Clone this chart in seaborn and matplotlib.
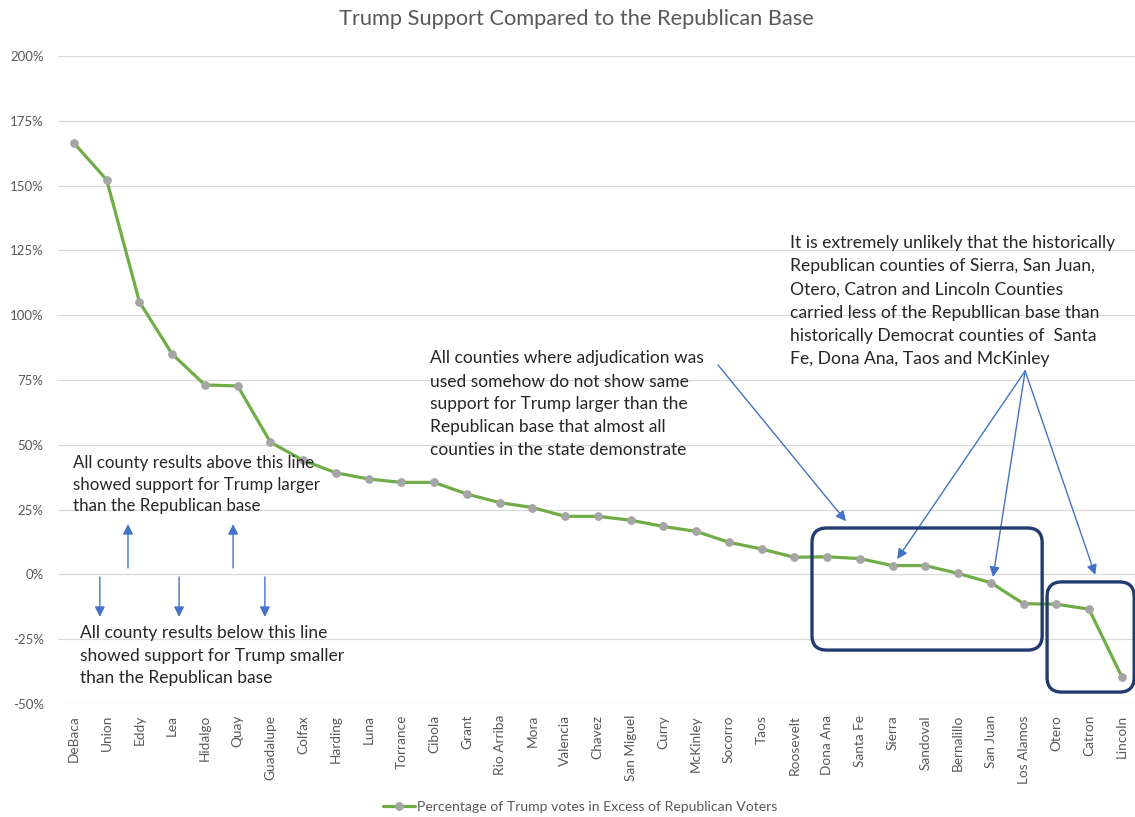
import matplotlib
matplotlib.use("Agg")
import matplotlib.pyplot as plt
from matplotlib.patches import FancyBboxPatch
import pandas as pd
import seaborn as sns

# ---------------- data ----------------
counties = ["DeBaca", "Union", "Eddy", "Lea", "Hidalgo", "Quay", "Guadalupe", "Colfax",
            "Harding", "Luna", "Torrance", "Cibola", "Grant", "Rio Arriba", "Mora",
            "Valencia", "Chavez", "San Miguel", "Curry", "McKinley", "Socorro", "Taos",
            "Roosevelt", "Dona Ana", "Santa Fe", "Sierra", "Sandoval", "Bernalillo",
            "San Juan", "Los Alamos", "Otero", "Catron", "Lincoln"]
excess_pct = [166.4, 152.2, 105.1, 85.0, 73.1, 72.7, 51.0, 44.0,
              39.2, 36.8, 35.5, 35.5, 31.0, 27.7, 25.8,
              22.4, 22.4, 20.9, 18.5, 16.6, 12.4, 9.8,
              6.6, 6.8, 6.1, 3.4, 3.4, 0.4,
              -3.2, -11.3, -11.5, -13.4, -39.4]
y_ticks = [-50, -25, 0, 25, 50, 75, 100, 125, 150, 175, 200]
y_tick_labels = [f"{v}%" for v in y_ticks]
series_name = "Percentage of Trump votes in Excess of Republican Voters"
title = "Trump Support Compared to the Republican Base"

df = pd.DataFrame({"county": counties, "pct": excess_pct})

# ---------------- style ----------------
sns.set_theme(style="white")
plt.rcParams["font.family"] = ["Lato", "DejaVu Sans"]

W, H = 1135, 817
fig = plt.figure(figsize=(W / 100, H / 100), dpi=100)
ax = fig.add_axes([57.6 / W, (H - 704) / H, 1080.5 / W, 648 / H])

GREEN = "#70AD47"
GRAYM = "#A5A5A5"
TXT = "#595959"
BLUE = "#4472C4"
NAVY = "#213C6E"

sns.lineplot(data=df, x="county", y="pct", sort=False, ax=ax, color=GREEN,
             linewidth=2.3, marker="o", markersize=5.5, markerfacecolor=GRAYM,
             markeredgecolor=GRAYM, label=series_name, errorbar=None, zorder=3)

ax.set_xlim(-0.5, len(counties) - 0.5)
ax.set_ylim(-50, 200)
ax.set_yticks(y_ticks)
ax.set_yticklabels(y_tick_labels)
ax.set_xticks(range(len(counties)))
ax.set_xticklabels(counties, rotation=90)
ax.tick_params(axis="y", colors=TXT, labelsize=9.5, length=0, pad=10)
ax.tick_params(axis="x", colors=TXT, labelsize=9.8, length=0, pad=8)
for lab in ax.get_xticklabels() + ax.get_yticklabels():
    lab.set_color(TXT)
ax.set_xlabel("")
ax.set_ylabel("")
ax.grid(axis="y", color="#D9D9D9", linewidth=0.9)
ax.grid(axis="x", visible=False)
for s in ax.spines.values():
    s.set_visible(False)

leg = ax.legend(loc="center", bbox_to_anchor=(0.511, (H - 807) / H),
                bbox_transform=fig.transFigure, frameon=False, fontsize=10.1,
                handlelength=2.3, handletextpad=0.15, labelcolor=TXT)

t_title = fig.text(576 / W, 1 - 19 / H, title, ha="center", va="center",
                   color=TXT, fontsize=14)

# ---------------- annotations (data coords: category index, percent) ----------------
def add_lines(x, ys, lines, size):
    objs = []
    for yy, s in zip(ys, lines):
        objs.append(ax.text(x, yy, s, ha="left", va="center", fontsize=size,
                            color="#262626", zorder=4))
    return objs

above = add_lines(-0.03, [43.0, 34.5, 26.2],
                  ["All county results above this line",
                   "showed support for Trump larger",
                   "than the Republican base"], 12)
below = add_lines(0.18, [-22.6, -31.5, -40.0],
                  ["All county results below this line",
                   "showed support for Trump smaller",
                   "than the Republican base"], 12)
middle = add_lines(10.87, [83.5, 74.4, 65.7, 56.9, 48.0],
                   ["All counties where adjudication was",
                    "used somehow do not show same",
                    "support for Trump larger than the",
                    "Republican base that almost all",
                    "counties in the state demonstrate"], 12)
right = add_lines(21.87, [127.9, 118.9, 110.0, 101.0, 92.1, 83.1],
                  ["It is extremely unlikely that the historically",
                   "Republican counties of Sierra, San Juan,",
                   "Otero, Catron and Lincoln Counties",
                   "carried less of the Republlican base than",
                   "historically Democrat counties of  Santa",
                   "Fe, Dona Ana, Taos and McKinley"], 11)

fig.canvas.draw()
rend = fig.canvas.get_renderer()


def fit(objs, target_px):
    w = max(o.get_window_extent(rend).width for o in objs)
    for o in objs:
        o.set_fontsize(o.get_fontsize() * target_px / w)


fit(above, 244)
fit(below, 262)
fit(middle, 273)
fit(right, 324)
fit([t_title], 478)

arrow_kw = dict(arrowstyle="-|>", color=BLUE, lw=1.0, mutation_scale=15,
                shrinkA=0, shrinkB=0)


def arrow(x0, y0, x1, y1):
    ax.annotate("", xy=(x1, y1), xytext=(x0, y0), xycoords="data",
                textcoords="data", arrowprops=arrow_kw, zorder=5)


arrow(19.67, 80.8, 23.58, 20.5)
for tx, ty in [(25.14, 5.9), (28.07, -1.0), (31.19, -0.2)]:
    arrow(29.05, 78.5, tx, ty)
for ux in [1.65, 4.86]:
    arrow(ux, 2.5, ux, 19.4)
for dx in [0.79, 3.21, 5.83]:
    arrow(dx, -1.0, dx, -16.4)

asp = 32.74 / 2.592
for (x0, x1, y0, y1) in [(22.54, 29.57, -29.2, 17.9), (29.72, 32.38, -45.4, -2.9)]:
    ax.add_patch(FancyBboxPatch((x0, y0), x1 - x0, y1 - y0,
                                boxstyle="round,pad=0,rounding_size=0.45",
                                mutation_aspect=asp, fill=False, edgecolor=NAVY,
                                linewidth=2.4, zorder=6, clip_on=False))

fig.savefig("out.png", dpi=100)
